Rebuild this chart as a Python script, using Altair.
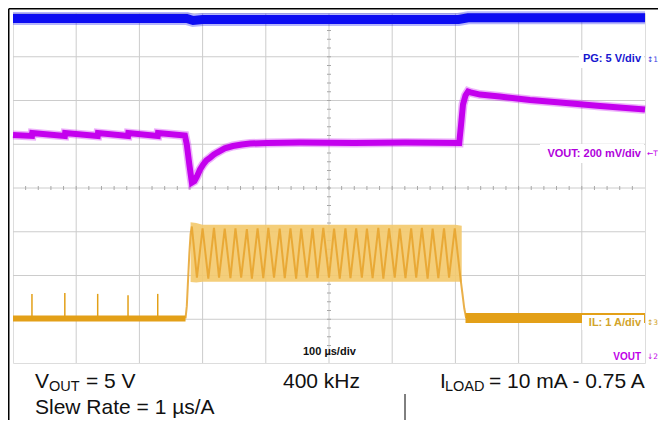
import altair as alt
import pandas as pd

# ---------------- data ----------------
# time base: 100 us/div, 10 divisions
# CH1 PG (V), 5 V/div
pg_t = [0, 275, 285, 300, 705, 720, 1000]
pg_v = [4.37, 4.37, 4.15, 4.26, 4.26, 4.45, 4.45]

# CH2 VOUT deviation (mV), 200 mV/div
vout_t = [0, 30, 30.5, 82, 82.5, 134, 134.5, 182, 182.5, 229, 229.5, 272,
          275, 279, 283, 287, 291, 296, 301, 306, 312, 318, 323, 335, 348,
          362, 375, 402, 454, 540, 620, 706, 709, 712, 716, 720, 724, 739,
          770, 818, 866, 929, 1000]
vout_mv = [34, 30, 43, 30, 43, 30, 43, 30, 43, 30, 43, 32,
           -9, -100, -183, -176, -155, -123, -100, -82, -69, -55, -46, -27, -16,
           -9, -5, -2, 0, -2, 0, -2, 82, 174, 215, 233, 229, 219,
           210, 194, 183, 167, 151]

# CH3 IL (A), 1 A/div
il_pre_t = [0, 273]
il_pre_a = [0.02, 0.02]
il_spike_t = [30, 82, 134, 182, 229]
il_spike_a = [0.58, 0.60, 0.58, 0.55, 0.58]
il_sw_t = [273, 275, 277, 279, 281,
           283, 291, 300, 309, 318, 326, 335, 344, 352, 361, 370, 378, 387, 396,
           404, 413, 422, 430, 439, 448, 456, 465, 474, 482, 491, 500, 508, 517,
           526, 534, 543, 552, 560, 569, 578, 586, 595, 604, 612, 621, 630, 638,
           647, 656, 664, 673, 682, 690, 699, 708,
           711, 714, 717]
il_sw_a = [0.02, 0.30, 0.90, 1.50, 1.95,
           2.12, 0.95, 2.08, 0.93, 2.09, 0.95, 2.07, 0.94, 2.08, 0.95, 2.06, 0.93,
           2.08, 0.94, 2.09, 0.95, 2.07, 0.94, 2.08, 0.93, 2.07, 0.95, 2.08, 0.94,
           2.09, 0.95, 2.07, 0.93, 2.08, 0.94, 2.08, 0.95, 2.07, 0.94, 2.09, 0.93,
           2.08, 0.95, 2.07, 0.94, 2.08, 0.95, 2.09, 0.93, 2.07, 0.94, 2.08, 0.95,
           2.08, 0.94,
           0.60, 0.25, 0.03]
il_env_t = [281, 290, 300, 700, 710]
il_env_hi = [2.22, 2.20, 2.16, 2.16, 2.14]
il_env_lo = [0.85, 0.84, 0.86, 0.86, 0.86]
il_post_t = [716, 1000]
il_post_a = [0.03, 0.03]

# channel positions (divisions) and scales (units/div)
PG_OFF, PG_DIV = 3.0, 5.0
VO_OFF, VO_DIV = 1.04, 200.0
IL_OFF, IL_DIV = -3.0, 1.0

grid_t = [100, 200, 300, 400, 500, 600, 700, 800, 900]
grid_d = [-3, -2, -1, 0, 1, 2, 3]
minor_t = [i * 20 for i in range(1, 50)]
minor_d = [i * 0.2 - 4 for i in range(1, 40)]

# ---------------- helpers ----------------
W, H = 632, 350
xs = alt.Scale(domain=[0, 1000], nice=False, zero=False)
ys = alt.Scale(domain=[-4, 4], nice=False, zero=False)


def X(f="t"):
    return alt.X(f"{f}:Q", scale=xs, axis=None)


def Y(f="d"):
    return alt.Y(f"{f}:Q", scale=ys, axis=None)


def df(t, vals, off, per):
    return pd.DataFrame({"t": t, "d": [off + v / per for v in vals]})


one = pd.DataFrame({"k": [0]})

BLUE = "#0c0cf2"
MAG = "#c400ee"
GOLD = "#e3a018"
GOLD_LT = "#f3c96c"
FONT = "Liberation Sans"


def txt(s, x, y, size, color, align="left", baseline="alphabetic",
        weight="normal", font=FONT):
    return alt.Chart(one).mark_text(
        text=s, align=align, baseline=baseline, fontSize=size,
        fontWeight=weight, color=color, font=font
    ).encode(x=alt.value(x), y=alt.value(y))


def bg(x1, x2, y1, y2):
    return alt.Chart(one).mark_rect(color="white").encode(
        x=alt.value(x1), x2=alt.value(x2), y=alt.value(y1), y2=alt.value(y2))


def marker(s, y, color):
    return txt(s, 634, y, 7.5, color, "left", "middle", font="DejaVu Sans")


# ---------------- grid ----------------
gx = alt.Chart(pd.DataFrame({"t": grid_t})).mark_rule(
    color="#cccccc", strokeWidth=1).encode(x=X())
gy = alt.Chart(pd.DataFrame({"d": grid_d})).mark_rule(
    color="#cccccc", strokeWidth=1).encode(y=Y())
cx = W / 2
cy = H / 2
mtx = alt.Chart(pd.DataFrame({"t": minor_t})).mark_rule(
    color="#a8a8a8", strokeWidth=1).encode(
    x=X(), y=alt.value(cy - 2), y2=alt.value(cy + 2))
mty = alt.Chart(pd.DataFrame({"d": minor_d})).mark_rule(
    color="#a8a8a8", strokeWidth=1).encode(
    y=Y(), x=alt.value(cx - 2), x2=alt.value(cx + 2))

# ---------------- traces ----------------
pg_df = df(pg_t, pg_v, PG_OFF, PG_DIV)
pg_fuzz = alt.Chart(pg_df).mark_line(color=BLUE, strokeWidth=13, opacity=0.3).encode(x=X(), y=Y())
pg_line = alt.Chart(pg_df).mark_line(color=BLUE, strokeWidth=9).encode(x=X(), y=Y())

vo_df = df(vout_t, vout_mv, VO_OFF, VO_DIV)
vo_fuzz = alt.Chart(vo_df).mark_line(color=MAG, strokeWidth=9, opacity=0.3).encode(x=X(), y=Y())
vo_line = alt.Chart(vo_df).mark_line(color=MAG, strokeWidth=6).encode(x=X(), y=Y())

env_df = pd.DataFrame({"t": il_env_t,
                       "hi": [IL_OFF + v / IL_DIV for v in il_env_hi],
                       "lo": [IL_OFF + v / IL_DIV for v in il_env_lo]})
il_env = alt.Chart(env_df).mark_area(color=GOLD_LT, opacity=0.9).encode(
    x=X(), y=Y("hi"), y2=alt.Y2("lo:Q"))
il_sw = alt.Chart(df(il_sw_t, il_sw_a, IL_OFF, IL_DIV)).mark_line(
    color="#e6a22a", strokeWidth=2, opacity=0.85).encode(x=X(), y=Y())
il_pre = alt.Chart(df(il_pre_t, il_pre_a, IL_OFF, IL_DIV)).mark_line(
    color=GOLD, strokeWidth=6).encode(x=X(), y=Y())
il_post = alt.Chart(df(il_post_t, il_post_a, IL_OFF, IL_DIV)).mark_line(
    color=GOLD, strokeWidth=10).encode(x=X(), y=Y())
sp_df = df(il_spike_t, il_spike_a, IL_OFF, IL_DIV)
sp_df["b"] = IL_OFF + 0.02
il_sp = alt.Chart(sp_df).mark_rule(color=GOLD, strokeWidth=1.5).encode(
    x=X(), y=Y(), y2=alt.Y2("b:Q"))

# ---------------- labels ----------------
layers = [
    gx, gy, mtx, mty,
    pg_fuzz, pg_line,
    il_env, il_sw, il_pre, il_post, il_sp,
    vo_fuzz, vo_line,
    bg(566, 631, 37, 55), bg(527, 631, 131, 150),
    bg(569, 631, 302, 317), bg(599, 631, 336, 349),
    txt("PG: 5 V/div", 628, 46, 11, "#1616d0", "right", "middle", "bold"),
    txt("VOUT: 200 mV/div", 628, 141, 11, "#b000dc", "right", "middle", "bold"),
    txt("IL: 1 A/div", 628, 310, 11, "#d2a42a", "right", "middle", "bold"),
    txt("VOUT", 628, 344, 10, "#c000e8", "right", "middle", "bold"),
    txt("100 \u00b5s/div", 290, 339, 11, "#111111", "left", "middle", "bold"),
    marker("\u21951", 47, "#3a3ae0"),
    marker("\u2190T", 141, "#c000e8"),
    marker("\u21953", 310, "#d2a42a"),
    marker("\u21932", 344, "#c000e8"),
    # conditions below the screen
    txt("V", 22, 375, 21, "#111111"),
    txt("OUT", 36, 378, 14.5, "#111111"),
    txt("= 5 V", 73, 375, 21, "#111111"),
    txt("400 kHz", 270, 375, 21, "#111111"),
    txt("I", 427, 375, 21, "#111111"),
    txt("LOAD", 432, 378, 14.5, "#111111"),
    txt("= 10 mA - 0.75 A", 476, 375, 21, "#111111"),
    txt("Slew Rate = 1 \u00b5s/A", 22, 400.5, 21, "#111111"),
    alt.Chart(one).mark_rule(color="black", strokeWidth=1).encode(
        x=alt.value(392), y=alt.value(381), y2=alt.value(407)),
    alt.Chart(one).mark_rule(color="black", strokeWidth=1.5).encode(
        x=alt.value(-4.25), y=alt.value(-4.25), y2=alt.value(407)),
    alt.Chart(one).mark_rule(color="black", strokeWidth=1.5).encode(
        x=alt.value(-4.25), x2=alt.value(645), y=alt.value(-4.25)),
]

chart = alt.layer(*layers).properties(
    width=W, height=H,
    padding={"left": 5, "top": 5, "right": 13, "bottom": 57},
    autosize=alt.AutoSizeParams(type="none"),
).configure_view(stroke="#b4b4b4", strokeWidth=1).configure(background="white")

chart.save("out.html", embed_options={"renderer": "svg", "actions": False})
